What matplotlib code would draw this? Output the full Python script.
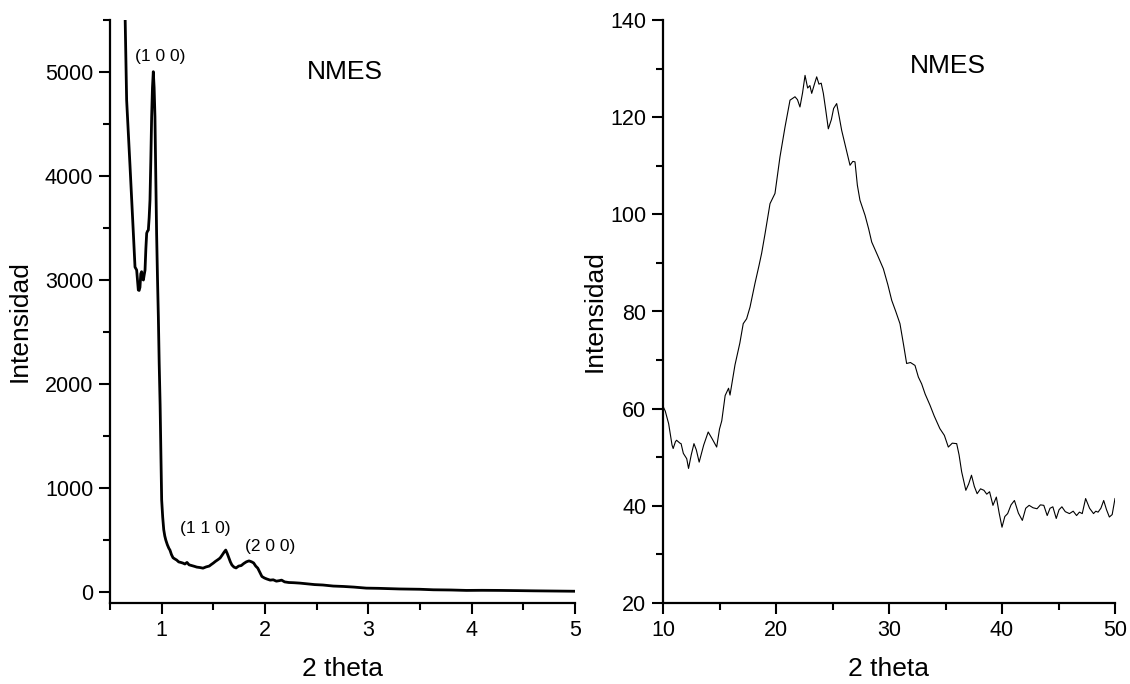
import matplotlib
matplotlib.use("Agg")
import matplotlib.pyplot as plt
from matplotlib.ticker import MultipleLocator

plt.rcParams['font.family'] = ['Liberation Sans', 'DejaVu Sans']

# ---- Left panel data (small angle XRD) ----
left_x = [0.645, 0.661, 0.694, 0.726, 0.742, 0.758, 0.774, 0.782, 0.790, 0.798, 0.806,
          0.815, 0.823, 0.831, 0.839, 0.847, 0.855, 0.863, 0.871, 0.879, 0.887, 0.895,
          0.903, 0.911, 0.919, 0.927, 0.935, 0.943, 0.951, 0.960, 0.968, 0.976, 0.985,
          0.993, 1.000, 1.010, 1.020, 1.030, 1.040, 1.055, 1.070, 1.080, 1.095, 1.110,
          1.125, 1.145, 1.165, 1.185, 1.205, 1.225, 1.245, 1.265, 1.290, 1.315, 1.340,
          1.370, 1.400, 1.430, 1.460, 1.480, 1.500, 1.520, 1.545, 1.565, 1.585, 1.605,
          1.620, 1.635, 1.650, 1.665, 1.680, 1.700, 1.720, 1.745, 1.770, 1.795, 1.820,
          1.845, 1.870, 1.890, 1.910, 1.930, 1.950, 1.970, 1.995, 2.020, 2.050, 2.080,
          2.110, 2.140, 2.160, 2.190, 2.230, 2.280, 2.340, 2.400, 2.480, 2.560, 2.660,
          2.760, 2.860, 2.980, 3.100, 3.300, 3.500, 3.630, 3.800, 3.950, 4.100, 4.270,
          4.450, 4.600, 4.800, 5.000]
left_y = [5600, 4730, 4090, 3450, 3125, 3096, 2904, 2900, 2930, 3060, 3080,
          3010, 3000, 3050, 3096, 3300, 3450, 3470, 3480, 3600, 3770, 4150,
          4570, 4850, 5003, 4850, 4570, 4000, 3450, 3000, 2644, 2200, 1800,
          1300, 885, 720, 600, 540, 500, 455, 420, 404, 360, 330,
          320, 308, 290, 285, 279, 270, 285, 262, 255, 248, 240,
          236, 230, 242, 250, 265, 279, 295, 312, 327, 355, 385,
          404, 370, 330, 290, 260, 240, 232, 250, 255, 275, 291,
          300, 291, 280, 250, 230, 190, 150, 135, 125, 115, 118,
          105, 110, 115, 98, 92, 90, 86, 80, 72, 68, 58,
          54, 48, 38, 36, 30, 27, 22, 20, 16, 17, 16,
          14, 12, 10, 8]

# ---- Right panel data (wide angle XRD) ----
right_x = [10.0, 10.2, 10.5, 10.8, 10.9, 11.1, 11.2, 11.5, 11.6, 11.8, 12.1, 12.26,
           12.5, 12.74, 12.95, 13.2, 13.6, 14.0, 14.35, 14.75, 15.0, 15.2, 15.5,
           15.8, 15.93, 16.37, 16.8, 17.1, 17.4, 17.7, 18.14, 18.5, 18.73, 19.03,
           19.47, 19.91, 20.35, 20.8, 21.24, 21.68, 21.9, 22.12, 22.35, 22.57, 22.8,
           23.0, 23.16, 23.4, 23.6, 23.8, 24.0, 24.19, 24.4, 24.63, 24.9, 25.1,
           25.37, 25.6, 25.81, 26.2, 26.55, 26.8, 26.99, 27.2, 27.43, 27.88, 28.2,
           28.47, 29.0, 29.5, 29.9, 30.24, 30.6, 30.97, 31.3, 31.56, 31.9, 32.3,
           32.6, 32.89, 33.2, 33.63, 34.0, 34.5, 34.9, 35.25, 35.6, 35.99, 36.2,
           36.43, 36.8, 37.05, 37.3, 37.55, 37.8, 38.1, 38.4, 38.65, 38.9, 39.2,
           39.5, 39.75, 40.0, 40.25, 40.5, 40.8, 41.1, 41.45, 41.8, 42.1, 42.4,
           42.75, 43.1, 43.4, 43.7, 44.0, 44.25, 44.5, 44.8, 45.05, 45.3, 45.6,
           45.97, 46.3, 46.6, 46.85, 47.1, 47.4, 47.75, 48.1, 48.3, 48.5, 48.75,
           49.0, 49.25, 49.5, 49.75, 50.0]
right_y = [60.5, 59.5, 56.9, 52.5, 51.8, 53.2, 53.5, 52.9, 52.8, 50.8, 49.7, 47.7,
           50.5, 52.8, 51.5, 49.0, 52.5, 55.2, 53.8, 52.1, 55.8, 57.5, 62.7,
           64.2, 62.8, 69.0, 73.5, 77.5, 78.5, 80.9, 85.8, 89.5, 92.0, 96.0,
           102.2, 104.3, 111.8, 118.0, 123.5, 124.2, 123.6, 122.1, 125.0, 128.6, 126.0,
           126.5, 124.9, 126.8, 128.3, 126.8, 127.0, 124.9, 121.5, 117.6, 119.5, 121.8,
           122.8, 120.0, 117.3, 113.5, 110.1, 110.9, 110.8, 106.0, 102.9, 99.8, 97.0,
           94.3, 91.5, 88.8, 85.5, 82.3, 80.0, 77.5, 73.0, 69.3, 69.5, 68.9,
           66.5, 65.1, 63.0, 60.7, 58.5, 55.9, 54.5, 52.1, 52.9, 52.8, 50.5,
           47.0, 43.2, 44.5, 46.3, 44.0, 42.5, 43.5, 43.2, 42.4, 42.9, 40.1,
           41.8, 38.5, 35.6, 37.8, 38.4, 40.2, 41.1, 38.5, 37.0, 39.5, 40.1,
           39.6, 39.4, 40.2, 40.1, 38.0, 39.5, 39.8, 37.4, 39.2, 39.8, 38.8,
           38.4, 38.9, 38.0, 38.7, 38.4, 41.5, 39.5, 38.4, 38.9, 38.7, 39.5,
           41.1, 39.2, 37.7, 38.2, 41.5]

left_annotations = ["(1 0 0)", "(1 1 0)", "(2 0 0)"]
sample_name = "NMES"
xlabel_text = "2 theta"
ylabel_text = "Intensidad"

fig = plt.figure(figsize=(11.3, 6.84), dpi=100)
axL = fig.add_axes([110/1130, 81/684, 465/1130, 583/684])
axR = fig.add_axes([663/1130, 81/684, 452/1130, 583/684])

for ax in (axL, axR):
    for s in ("top", "right"):
        ax.spines[s].set_visible(False)
    for s in ("left", "bottom"):
        ax.spines[s].set_linewidth(1.6)
    ax.tick_params(which="major", direction="out", length=8, width=1.5,
                   labelsize=15.5, pad=4)
    ax.tick_params(which="minor", direction="out", length=5, width=1.5)

axL.plot(left_x, left_y, color="black", lw=2.0, solid_joinstyle="round")
axL.set_xlim(0.5, 5)
axL.set_ylim(-105, 5500)
axL.xaxis.set_major_locator(MultipleLocator(1))
axL.xaxis.set_minor_locator(MultipleLocator(0.5))
axL.yaxis.set_major_locator(MultipleLocator(1000))
axL.yaxis.set_minor_locator(MultipleLocator(500))
axL.text(0.984, 5150, left_annotations[0], fontsize=12.5, ha="center", va="center")
axL.text(1.42, 615, left_annotations[1], fontsize=12.5, ha="center", va="center")
axL.text(2.05, 442, left_annotations[2], fontsize=12.5, ha="center", va="center")
axL.text(2.77, 5000, sample_name, fontsize=19, ha="center", va="center")
axL.set_xlabel(xlabel_text, fontsize=19)
axL.set_ylabel(ylabel_text, fontsize=19)
axL.xaxis.set_label_coords(0.5, -0.092)
axL.yaxis.set_label_coords(-0.168, 0.484)

axR.plot(right_x, right_y, color="black", lw=0.8)
axR.set_xlim(10, 50)
axR.set_ylim(20, 140)
axR.xaxis.set_major_locator(MultipleLocator(10))
axR.xaxis.set_minor_locator(MultipleLocator(5))
axR.yaxis.set_major_locator(MultipleLocator(20))
axR.yaxis.set_minor_locator(MultipleLocator(10))
axR.text(35.2, 130.5, sample_name, fontsize=19, ha="center", va="center")
axR.set_xlabel(xlabel_text, fontsize=19)
axR.set_ylabel(ylabel_text, fontsize=19)
axR.xaxis.set_label_coords(0.5, -0.092)
axR.yaxis.set_label_coords(-0.124, 0.50)

fig.savefig("out.png", dpi=100)
